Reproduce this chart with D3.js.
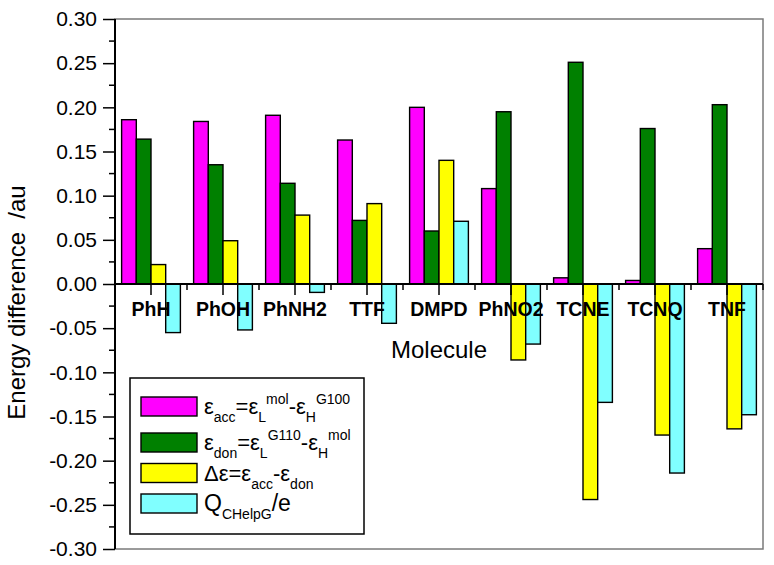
<!DOCTYPE html>
<html>
<head>
<meta charset="utf-8">
<script src="https://cdn.jsdelivr.net/npm/d3@7"></script>
<style>
  body { margin: 0; background: #fff; }
  svg { display: block; font-family: "Liberation Sans", Arial, sans-serif; }
</style>
</head>
<body>
<svg id="chart" width="774" height="565"></svg>
<script>
// molecules along the x axis
const molecules = ["PhH", "PhOH", "PhNH2", "TTF", "DMPD", "PhNO2", "TCNE", "TCNQ", "TNF"];

// series values (au)
const epsAcc   = [0.186, 0.184, 0.191, 0.163, 0.200, 0.108, 0.007, 0.004, 0.040];
const epsDon   = [0.164, 0.135, 0.114, 0.072, 0.060, 0.195, 0.251, 0.176, 0.203];
const deltaEps = [0.022, 0.049, 0.078, 0.091, 0.140, -0.086, -0.244, -0.171, -0.164];
const qChelpg  = [-0.055, -0.052, -0.0095, -0.0445, 0.071, -0.068, -0.134, -0.214, -0.148];

const yTicks = [-0.30, -0.25, -0.20, -0.15, -0.10, -0.05, 0.00, 0.05, 0.10, 0.15, 0.20, 0.25, 0.30];
const yMinorTicks = [-0.275, -0.225, -0.175, -0.125, -0.075, -0.025, 0.025, 0.075, 0.125, 0.175, 0.225, 0.275];

const seriesNames = ["acc", "don", "delta", "q"];
const seriesColors = ["#ff00ff", "#008000", "#ffff00", "#80ffff"];

// legend labels: [text, "b" base | "sub" | "sup"]
const legendLabels = [
    [["ε", "b"], ["acc", "sub"], ["=ε", "b"], ["L", "sub"], ["mol", "sup"], ["-ε", "b"], ["H", "sub"], ["G100", "sup"]],
    [["ε", "b"], ["don", "sub"], ["=ε", "b"], ["L", "sub"], ["G110", "sup"], ["-ε", "b"], ["H", "sub"], ["mol", "sup"]],
    [["Δε=ε", "b"], ["acc", "sub"], ["-ε", "b"], ["don", "sub"]],
    [["Q", "b"], ["CHelpG", "sub"], ["/e", "b"]]
];

const seriesValues = [epsAcc, epsDon, deltaEps, qChelpg];

const svg = d3.select("#chart");
const plotLeft = 115, plotRight = 763, plotTop = 19, plotBottom = 549;

let x = d3.scaleBand()
    .domain(molecules)
    .range([plotLeft, plotRight])
    .padding(0);

let xInner = d3.scaleBand()
    .domain(seriesNames)
    .range([0, x.bandwidth()])
    .paddingInner(0)
    .paddingOuter(0.45);

let y = d3.scaleLinear()
    .domain([-0.30, 0.30])
    .range([plotBottom, plotTop]);

// frame (grey top / right / bottom)
svg.append("rect")
    .attr("x", plotLeft)
    .attr("y", plotTop)
    .attr("width", plotRight - plotLeft)
    .attr("height", plotBottom - plotTop)
    .attr("fill", "none")
    .attr("stroke", "#7a7a7a")
    .attr("stroke-width", 1.5);

// bars
let rows = [];
molecules.forEach((m, i) => {
    seriesNames.forEach((s, j) => {
        rows.push({molecule: m, series: s, value: seriesValues[j][i], color: seriesColors[j]});
    });
});

svg.append("g")
    .attr("class", "bars")
    .selectAll("rect")
    .data(rows)
    .enter().append("rect")
    .attr("x", d => x(d.molecule) + xInner(d.series))
    .attr("y", d => y(Math.max(0, d.value)))
    .attr("width", xInner.bandwidth())
    .attr("height", d => Math.abs(y(d.value) - y(0)))
    .attr("fill", d => d.color)
    .attr("stroke", "#000")
    .attr("stroke-width", 1.4);

// left axis
let yAxis = d3.axisLeft(y)
    .tickValues(yTicks)
    .tickSize(12)
    .tickPadding(6)
    .tickFormat(d => d.toFixed(2));

let gy = svg.append("g")
    .attr("transform", `translate(${plotLeft},0)`)
    .call(yAxis);
gy.select(".domain").remove();
gy.selectAll(".tick line").attr("stroke", "#000").attr("stroke-width", 1.5);
gy.selectAll(".tick text")
    .attr("font-size", 21)
    .attr("font-family", "'Liberation Sans', Arial, sans-serif")
    .attr("fill", "#000");

svg.append("g")
    .selectAll("line")
    .data(yMinorTicks)
    .enter().append("line")
    .attr("x1", plotLeft - 6)
    .attr("x2", plotLeft)
    .attr("y1", d => y(d))
    .attr("y2", d => y(d))
    .attr("stroke", "#000")
    .attr("stroke-width", 1.5);

svg.append("line")
    .attr("x1", plotLeft).attr("x2", plotLeft)
    .attr("y1", plotTop).attr("y2", plotBottom)
    .attr("stroke", "#000")
    .attr("stroke-width", 2);

// zero line with ticks
svg.append("line")
    .attr("x1", plotLeft).attr("x2", plotRight)
    .attr("y1", y(0)).attr("y2", y(0))
    .attr("stroke", "#000")
    .attr("stroke-width", 2);

svg.append("g")
    .selectAll("line")
    .data(molecules)
    .enter().append("line")
    .attr("x1", d => x(d) + x.bandwidth() / 2)
    .attr("x2", d => x(d) + x.bandwidth() / 2)
    .attr("y1", y(0))
    .attr("y2", y(0) + 11)
    .attr("stroke", "#000")
    .attr("stroke-width", 1.5);

svg.append("g")
    .selectAll("line")
    .data(molecules.slice(1).concat(["end"]))
    .enter().append("line")
    .attr("x1", (d, i) => i < molecules.length - 1 ? x(d) : plotRight)
    .attr("x2", (d, i) => i < molecules.length - 1 ? x(d) : plotRight)
    .attr("y1", y(0))
    .attr("y2", y(0) + 6)
    .attr("stroke", "#000")
    .attr("stroke-width", 1.5);

// molecule labels
svg.append("g")
    .selectAll("text")
    .data(molecules)
    .enter().append("text")
    .attr("x", d => x(d) + x.bandwidth() / 2)
    .attr("y", y(0) + 32)
    .attr("text-anchor", "middle")
    .attr("font-size", 19.5)
    .attr("font-weight", "bold")
    .text(d => d);

// axis titles
svg.append("text")
    .attr("x", (plotLeft + plotRight) / 2)
    .attr("y", 358)
    .attr("text-anchor", "middle")
    .attr("font-size", 24)
    .text("Molecule");

svg.append("text")
    .attr("transform", `translate(25,${(180 + 425) / 2}) rotate(-90)`)
    .attr("text-anchor", "middle")
    .attr("font-size", 24)
    .style("white-space", "pre")
    .text("Energy difference  /au");

// legend
let legend = svg.append("g").attr("class", "legend");
legend.append("rect")
    .attr("x", 130).attr("y", 378)
    .attr("width", 234).attr("height", 156)
    .attr("fill", "#fff")
    .attr("stroke", "#000")
    .attr("stroke-width", 1.5);

const rowTops = [397, 433, 463.5, 494];
const shifts = {b: 0, sub: 8, sup: -10};

legendLabels.forEach((parts, i) => {
    legend.append("rect")
        .attr("x", 141).attr("y", rowTops[i])
        .attr("width", 56).attr("height", 19)
        .attr("fill", seriesColors[i])
        .attr("stroke", "#000")
        .attr("stroke-width", 1.4);

    let big = i === 3 ? 23 : 22;
    let t = legend.append("text")
        .attr("x", 204)
        .attr("y", rowTops[i] + 17)
        .style("white-space", "pre");
    let cur = 0;
    parts.forEach(p => {
        let target = shifts[p[1]];
        t.append("tspan")
            .attr("dy", target - cur)
            .attr("font-size", p[1] === "b" ? big : 14)
            .text(p[0]);
        cur = target;
    });
});
</script>
</body>
</html>
